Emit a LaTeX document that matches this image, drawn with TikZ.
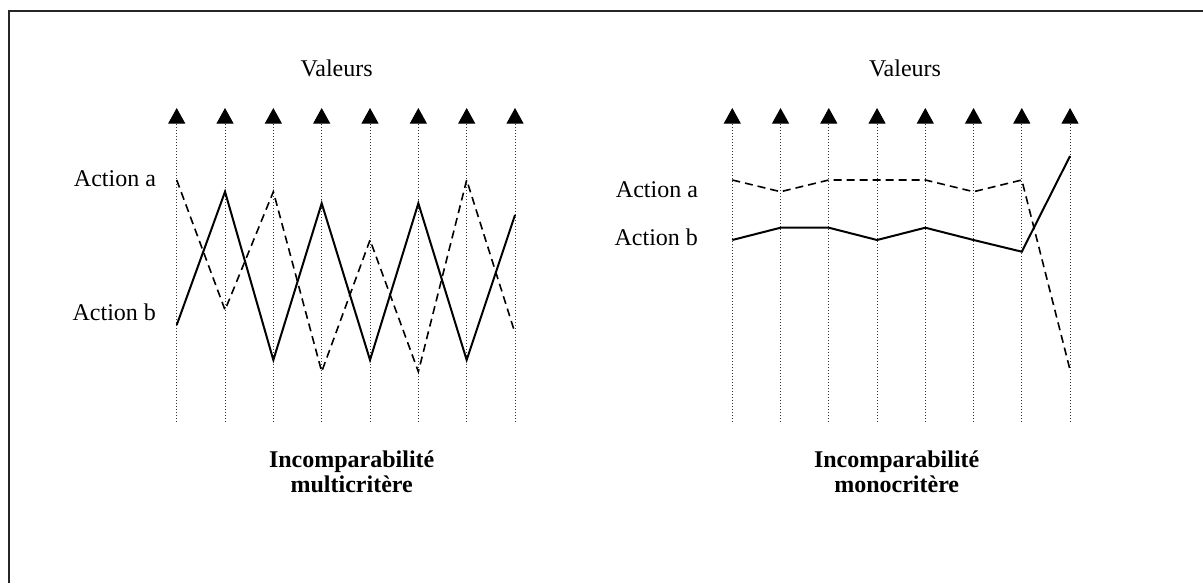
\documentclass[tikz,border=0pt]{standalone}
\usepackage{fontspec}
\setmainfont{Liberation Serif}
\usetikzlibrary{arrows.meta}

\begin{document}
\begin{tikzpicture}[x=0.5pt, y=-0.5pt, every node/.style={font=\fontsize{12}{11.5}\selectfont},
  axe/.style={black!80, line width=0.5pt, dash pattern=on 0.5pt off 1pt, -{Triangle[width=8.5pt,length=7.8pt,black]}},
  profa/.style={line width=0.8pt, dash pattern=on 4pt off 2.5pt},
  profb/.style={line width=1pt}]
\useasboundingbox (0,0) rectangle (1203,583);

% cadre
\draw[line width=1pt, black!85] (9,583) -- (9,11) -- (1203,11);

% axes des criteres
\foreach \i in {0,...,7} {
\draw[axe] (176.7+48.33*\i,421.7) -- (176.7+48.33*\i,108);
\draw[axe] (732.3+48.25*\i,421.7) -- (732.3+48.25*\i,108);
}

% profils (multicritere)
\foreach \i/\ya/\yb in {0/180/325, 1/310/191.7, 2/191.7/360, 3/371.7/203.3, 4/240/360, 5/371.7/203.3, 6/180/360, 7/333/215} {
\coordinate (ma\i) at (176.7+48.33*\i,\ya);
\coordinate (mb\i) at (176.7+48.33*\i,\yb);
}
% profils (monocritere)
\foreach \i/\ya/\yb in {0/180/240, 1/191.7/227.7, 2/180/227.7, 3/180/240, 4/180/227.7, 5/191.7/240, 6/180/251.7, 7/370/156} {
\coordinate (sa\i) at (732.3+48.25*\i,\ya);
\coordinate (sb\i) at (732.3+48.25*\i,\yb);
}

\draw[profa] (ma0) -- (ma1) -- (ma2) -- (ma3) -- (ma4) -- (ma5) -- (ma6) -- (ma7);
\draw[profb] (mb0) -- (mb1) -- (mb2) -- (mb3) -- (mb4) -- (mb5) -- (mb6) -- (mb7);
\draw[profa] (sa0) -- (sa1) -- (sa2) -- (sa3) -- (sa4) -- (sa5) -- (sa6) -- (sa7);
\draw[profb] (sb0) -- (sb1) -- (sb2) -- (sb3) -- (sb4) -- (sb5) -- (sb6) -- (sb7);

% textes
\node (valm) at (336.7,68) {Valeurs};
\node (vals) at (905,68) {Valeurs};
\node[anchor=east] (ma) at (163,179) {Action a};
\node[anchor=east] (mb) at (163,312) {Action b};
\node[anchor=east] (sa) at (705,190) {Action a};
\node[anchor=east] (sb) at (705,237) {Action b};
\node[align=center, font=\fontsize{12}{12.5}\selectfont\bfseries] (titm) at (351.7,472) {Incomparabilité\\multicritère};
\node[align=center, font=\fontsize{12}{12.5}\selectfont\bfseries] (tits) at (896.7,472) {Incomparabilité\\monocritère};
\end{tikzpicture}
\end{document}
